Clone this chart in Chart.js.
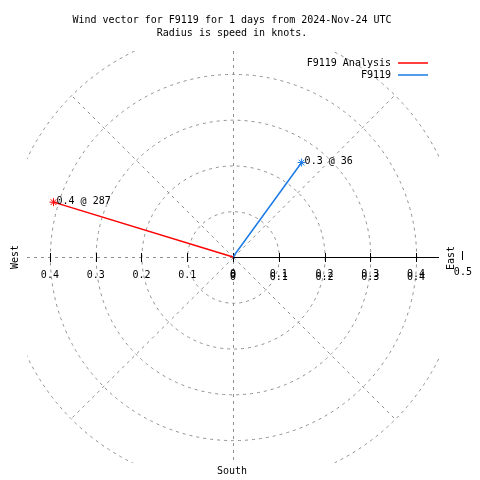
<!DOCTYPE html>
<html>
<head>
<meta charset="utf-8">
<script src="https://cdn.jsdelivr.net/npm/chart.js@4.4.1/dist/chart.umd.min.js"></script>
<style>
body { margin: 0; background: #fff; }
</style>
</head>
<body>
<canvas id="windChart" width="480" height="480"></canvas>
<script>
// data
const stations = ['F9119 Analysis', 'F9119'];
const speeds = [0.41, 0.255];     // knots
const directions = [287, 36];     // degrees clockwise from north
const ringRadii = [0.1, 0.2, 0.3, 0.4, 0.5];
const spokeAngles = [45, 135, 225, 315];
const westTicks = [0.4, 0.3, 0.2, 0.1, 0];
const eastTicks = [0, 0.1, 0.2, 0.3, 0.4];
const edgeTick = 0.5;
const titleLines = ['Wind vector for F9119 for 1 days from 2024-Nov-24 UTC', 'Radius is speed in knots.'];

const lineColors = ['#ff0000', '#1a7ae6'];
const FONT = '10px "DejaVu Sans Mono", monospace';

function vectorEnd(speed, dir) {
    const rad = dir * Math.PI / 180;
    return { x: speed * Math.sin(rad), y: speed * Math.cos(rad) };
}

// circles + spokes behind the vectors, text on top
const polarGrid = {
    id: 'polarGrid',
    beforeDatasetsDraw(chart) {
        const { ctx, chartArea: a, scales: { x, y } } = chart;
        const cx = Math.round(x.getPixelForValue(0));
        const cy = Math.round(y.getPixelForValue(0));
        const ppu = x.getPixelForValue(1) - x.getPixelForValue(0);

        ctx.save();
        ctx.beginPath();
        ctx.rect(a.left, a.top, a.right - a.left, a.bottom - a.top);
        ctx.clip();
        ctx.strokeStyle = '#909090';
        ctx.lineWidth = 1;
        ctx.setLineDash([3, 4]);
        ringRadii.forEach(r => {
            ctx.beginPath();
            ctx.arc(cx + 0.5, cy + 0.5, r * ppu, 0, 2 * Math.PI);
            ctx.stroke();
        });
        spokeAngles.forEach(deg => {
            const p = vectorEnd(ringRadii[ringRadii.length - 1], deg);
            ctx.beginPath();
            ctx.moveTo(cx + 0.5, cy + 0.5);
            ctx.lineTo(x.getPixelForValue(p.x), y.getPixelForValue(p.y));
            ctx.stroke();
        });
        ctx.beginPath();
        ctx.moveTo(cx + 0.5, a.top);
        ctx.lineTo(cx + 0.5, a.bottom);
        ctx.stroke();
        ctx.beginPath();
        ctx.moveTo(a.left, cy + 0.5);
        ctx.lineTo(cx, cy + 0.5);
        ctx.stroke();
        ctx.restore();

        // solid east axis with ticks
        ctx.save();
        ctx.strokeStyle = '#000';
        ctx.lineWidth = 1;
        ctx.beginPath();
        ctx.moveTo(cx, cy + 0.5);
        ctx.lineTo(a.right, cy + 0.5);
        ctx.stroke();
        const tick = (v) => {
            const px = Math.round(x.getPixelForValue(v)) + 0.5;
            ctx.beginPath();
            ctx.moveTo(px, cy - 4);
            ctx.lineTo(px, cy + 5);
            ctx.stroke();
        };
        westTicks.forEach(v => tick(-v));
        eastTicks.forEach(v => tick(v));
        const px5 = Math.round(x.getPixelForValue(edgeTick)) + 0.5;
        ctx.beginPath();
        ctx.moveTo(px5, cy - 6);
        ctx.lineTo(px5, cy + 3);
        ctx.stroke();
        ctx.restore();
    },
    afterDraw(chart) {
        const { ctx, scales: { x, y } } = chart;
        const cx = x.getPixelForValue(0);
        const cy = y.getPixelForValue(0);
        ctx.save();
        ctx.font = FONT;
        ctx.fillStyle = '#000';
        ctx.textBaseline = 'middle';

        // title
        ctx.textAlign = 'center';
        titleLines.forEach((t, i) => ctx.fillText(t, 232, 20 + i * 13));

        // tick labels
        westTicks.forEach(v => ctx.fillText(String(v), x.getPixelForValue(-v), cy + 18));
        eastTicks.forEach(v => {
            const px = x.getPixelForValue(v);
            ctx.fillText(String(v), px, cy + 17);
            ctx.fillText(String(v), px, cy + 20);
        });
        ctx.fillText(String(edgeTick), x.getPixelForValue(edgeTick) + 1, cy + 15);
        ctx.fillText('South', cx - 1, 471);

        // compass labels, rotated
        [['West', 15, cy], ['East', 451, cy + 1]].forEach(([t, tx, ty]) => {
            ctx.save();
            ctx.translate(tx, ty);
            ctx.rotate(-Math.PI / 2);
            ctx.fillText(t, 0, 0);
            ctx.restore();
        });

        // legend
        stations.forEach((name, i) => {
            const ly = 63 + i * 12;
            ctx.textAlign = 'right';
            ctx.fillStyle = '#000';
            ctx.fillText(name, 391, ly);
            ctx.strokeStyle = lineColors[i];
            ctx.lineWidth = 1.5;
            ctx.beginPath();
            ctx.moveTo(398, ly);
            ctx.lineTo(428, ly);
            ctx.stroke();
        });

        // value labels at vector tips
        ctx.textAlign = 'left';
        ctx.fillStyle = '#000';
        stations.forEach((name, i) => {
            const p = vectorEnd(speeds[i], directions[i]);
            ctx.fillText(speeds[i].toFixed(1) + ' @ ' + directions[i],
                x.getPixelForValue(p.x) + 3, y.getPixelForValue(p.y) - 1);
        });
        ctx.restore();
    }
};

new Chart(document.getElementById('windChart'), {
    type: 'scatter',
    data: {
        datasets: stations.map((name, i) => ({
            label: name,
            data: [{ x: 0, y: 0 }, vectorEnd(speeds[i], directions[i])],
            showLine: true,
            borderColor: lineColors[i],
            borderWidth: 1.5,
            pointStyle: 'star',
            pointRadius: [0, 4],
            pointBorderColor: lineColors[i],
            pointBorderWidth: 1,
            pointHoverRadius: 0
        }))
    },
    options: {
        responsive: false,
        animation: false,
        events: [],
        layout: { padding: { left: 27, right: 41, top: 51, bottom: 17 } },
        scales: {
            x: { type: 'linear', min: -0.45, max: 0.45, display: false },
            y: { type: 'linear', min: -0.45, max: 0.45, display: false }
        },
        plugins: {
            legend: { display: false },
            title: { display: false },
            tooltip: { enabled: false }
        }
    },
    plugins: [polarGrid]
});
</script>
</body>
</html>
